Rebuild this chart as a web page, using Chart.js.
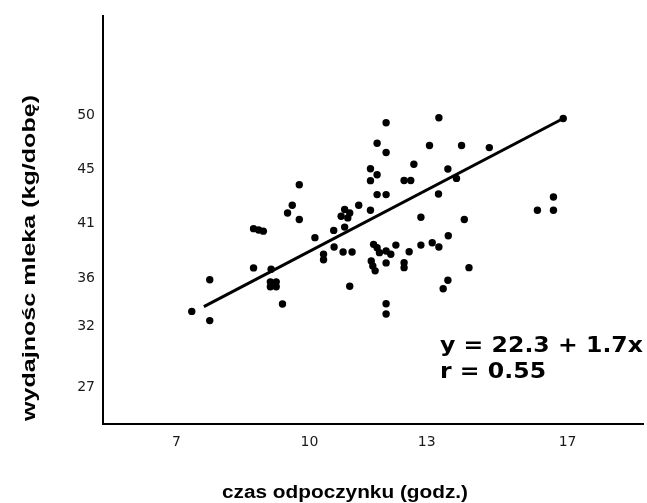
<!DOCTYPE html>
<html>
<head>
<meta charset="utf-8">
<script src="https://cdn.jsdelivr.net/npm/chart.js@4"></script>
<style>
  html, body { margin: 0; padding: 0; background: #fff; }
  #wrap { width: 647px; height: 503px; }
</style>
</head>
<body>
<div id="wrap"><canvas id="c" width="647" height="503"></canvas></div>
<script>
// Data
const restHours = [7.39, 7.85, 7.85, 8.97, 9.42, 9.40, 9.55, 9.40, 9.55, 9.71,
  8.97, 9.10, 9.22, 10.14, 9.96, 9.84, 10.14, 10.54, 10.76, 10.76,
  11.02, 11.03, 11.30, 11.26, 11.49, 11.43, 11.21, 11.30, 11.43, 11.38,
  11.66, 11.96, 12.36, 12.13, 12.36, 11.96, 12.13, 11.96, 12.13, 12.36,
  12.82, 12.99, 13.07, 13.71, 13.47, 14.29, 15.00, 13.94, 14.16, 13.70,
  13.25, 14.36, 13.95, 12.61, 13.25, 13.54, 13.71, 12.95, 12.48, 12.04,
  12.13, 12.19, 12.36, 11.98, 12.02, 12.08, 12.36, 12.82, 12.82, 14.48,
  13.94, 13.82, 12.36, 12.36, 16.23, 16.64, 16.64, 16.89];
const milkYield = [33.39, 32.61, 36.06, 37.07, 36.96, 35.89, 35.89, 35.47, 35.47, 34.01,
  40.39, 40.27, 40.18, 44.11, 42.37, 41.72, 41.17, 39.63, 38.22, 37.76,
  40.24, 38.84, 40.52, 38.41, 38.41, 35.51, 41.44, 42.01, 41.72, 41.30,
  42.37, 41.95, 49.35, 47.61, 46.83, 45.46, 44.95, 44.45, 43.27, 43.27,
  44.47, 44.47, 45.84, 49.77, 47.42, 47.42, 47.25, 45.44, 44.64, 43.32,
  41.36, 41.17, 39.79, 39.00, 39.00, 39.20, 38.84, 38.44, 38.22, 39.06,
  38.78, 38.36, 38.50, 37.66, 37.24, 36.82, 37.49, 37.51, 37.09, 37.09,
  36.02, 35.30, 34.04, 33.17, 41.95, 43.07, 41.95, 49.71];
// Fitted line end points (as drawn)
const fitX = [7.70, 16.89];
const fitY = [33.79, 49.71];
// Axis ticks (positions on the axis and printed labels)
const xTickValues = [7, 10.4, 13.4, 17];
const xTickLabels = ['7', '10', '13', '17'];
const yTickValues = [50, 45.4, 40.8, 36.2, 32.1, 27];
const yTickLabels = ['50', '45', '41', '36', '32', '27'];
const xTitle = 'czas odpoczynku (godz.)';
const yTitle = 'wydajnośc mleka (kg/dobę)';
const eqLine1 = 'y = 22.3 + 1.7x';
const eqLine2 = 'r = 0.55';

function fittedText(ctx, text, x, y, font, width, align, scaleOverride) {
  ctx.save();
  ctx.font = font;
  const w = ctx.measureText(text).width;
  const k = scaleOverride || (width / w);
  ctx.translate(x, y);
  ctx.scale(k, 1);
  ctx.textAlign = align;
  ctx.fillText(text, 0, 0);
  ctx.restore();
  return k;
}

const textPlugin = {
  id: 'texts',
  afterDraw(chart) {
    const ctx = chart.ctx;
    ctx.save();
    ctx.fillStyle = '#000';
    ctx.textBaseline = 'middle';
    // x title
    fittedText(ctx, xTitle, 345, 493, 'bold 18px "Liberation Sans", Arial, sans-serif', 246, 'center');
    // y title
    ctx.save();
    ctx.translate(30, 258);
    ctx.rotate(-Math.PI / 2);
    fittedText(ctx, yTitle, 0, 0, 'bold 19px "Liberation Sans", Arial, sans-serif', 326, 'center');
    ctx.restore();
    // equation
    const eqFont = 'bold 21px "DejaVu Sans", Verdana, sans-serif';
    const k = fittedText(ctx, eqLine1, 440, 347, eqFont, 203, 'left');
    fittedText(ctx, eqLine2, 440, 373, eqFont, 0, 'left', k);
    ctx.restore();
  }
};

const points = restHours.map((x, i) => ({ x: x, y: milkYield[i] }));
const fitPoints = fitX.map((x, i) => ({ x: x, y: fitY[i] }));

new Chart(document.getElementById('c'), {
  type: 'scatter',
  data: {
    datasets: [
      {
        type: 'line',
        data: fitPoints,
        borderColor: '#000',
        borderWidth: 3,
        pointRadius: 0,
        fill: false
      },
      {
        data: points,
        backgroundColor: '#000',
        borderColor: '#000',
        pointStyle: 'circle',
        pointRadius: 3.7,
        borderWidth: 0
      }
    ]
  },
  options: {
    responsive: false,
    animation: false,
    devicePixelRatio: 1,
    layout: { padding: { top: 14, right: 0, bottom: 0, left: 0 } },
    plugins: { legend: { display: false }, tooltip: { enabled: false }, title: { display: false } },
    scales: {
      x: {
        type: 'linear',
        min: 5.12,
        max: 18.93,
        afterFit(s) { s.height = 79; },
        afterBuildTicks(s) { s.ticks = xTickValues.map(v => ({ value: v })); },
        grid: { display: false, drawTicks: false },
        border: { display: true, color: '#000', width: 2 },
        ticks: {
          autoSkip: false,
          maxRotation: 0,
          padding: 10,
          color: '#1a1a1a',
          font: { family: '"DejaVu Sans", Verdana, sans-serif', size: 14 },
          callback: (v, i) => xTickLabels[i]
        }
      },
      y: {
        type: 'linear',
        min: 23.86,
        max: 58.35,
        afterFit(s) { s.width = 103; },
        afterBuildTicks(s) { s.ticks = yTickValues.map(v => ({ value: v })); },
        grid: { display: false, drawTicks: false },
        border: { display: true, color: '#000', width: 2 },
        ticks: {
          autoSkip: false,
          padding: 8,
          color: '#1a1a1a',
          font: { family: '"DejaVu Sans", Verdana, sans-serif', size: 14 },
          callback: (v, i) => yTickLabels[i]
        }
      }
    }
  },
  plugins: [textPlugin]
});
</script>
</body>
</html>
